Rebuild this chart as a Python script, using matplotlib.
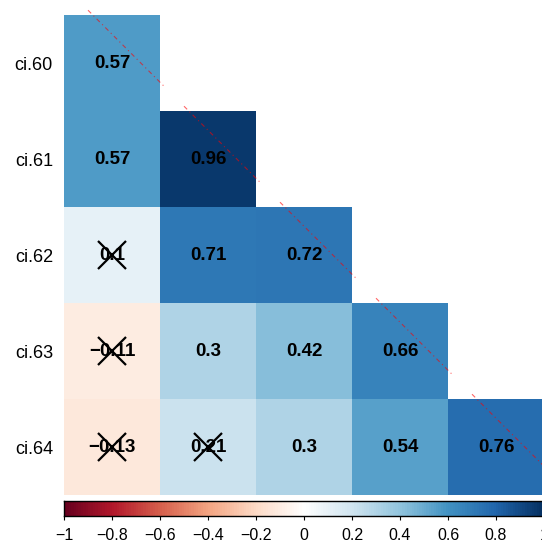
import numpy as np
import matplotlib
matplotlib.use("Agg")
import matplotlib.pyplot as plt
from matplotlib.colors import LinearSegmentedColormap

plt.rcParams['font.family'] = ['Liberation Sans', 'DejaVu Sans']

# --- donnees ---
row_labels = ["ci.60", "ci.61", "ci.62", "ci.63", "ci.64"]
row_60 = [0.57]
row_61 = [0.57, 0.96]
row_62 = [0.10, 0.71, 0.72]
row_63 = [-0.11, 0.30, 0.42, 0.66]
row_64 = [-0.13, 0.21, 0.30, 0.54, 0.76]
# cellules non significatives (barrees)
crossed = [(2, 0), (3, 0), (4, 0), (4, 1)]
cbar_ticks = [-1, -0.8, -0.6, -0.4, -0.2, 0, 0.2, 0.4, 0.6, 0.8, 1]

# palette RdBu facon corrplot (centre blanc)
col2 = ["#67001F", "#B2182B", "#D6604D", "#F4A582", "#FDDBC7", "#FFFFFF",
        "#D1E5F0", "#92C5DE", "#4393C3", "#2166AC", "#053061"]
cmap = LinearSegmentedColormap.from_list("col2", col2, N=200)

rows = [row_60, row_61, row_62, row_63, row_64]
n = len(rows)
mat = np.full((n, n), np.nan)
for i, r in enumerate(rows):
    mat[i, :len(r)] = r

W, H = 542, 544
fig = plt.figure(figsize=(W / 100, H / 100), dpi=100)

# --- matrice ---
ax = fig.add_axes([64 / W, (H - 495) / H, 480 / W, 480 / H])
ax.imshow(np.ma.masked_invalid(mat), cmap=cmap, vmin=-1, vmax=1,
          extent=(0.5, n + 0.5, n + 0.5, 0.5), aspect="auto",
          interpolation="nearest")
ax.set_xlim(0.5, n + 0.5)
ax.set_ylim(n + 0.5, 0.5)
for s in ax.spines.values():
    s.set_visible(False)
ax.set_xticks([])
ax.set_yticks(range(1, n + 1))
ax.set_yticklabels(row_labels, fontsize=13)
ax.tick_params(axis="y", length=0, pad=8)

for i, r in enumerate(rows):
    for j, v in enumerate(r):
        txt = f"{v:.2f}".rstrip("0").rstrip(".").replace("-", "\u2212")
        ax.text(j + 1, i + 1, txt, ha="center", va="center",
                fontsize=13.5, fontweight="bold", color="black")

for (i, j) in crossed:
    ax.plot(j + 1, i + 1, marker="x", markersize=19.5, mew=1.6,
            color="black", linestyle="none")

# etiquettes de colonnes illisibles (traits rouges en diagonale)
for j in range(n):
    ax.plot([j + 0.75, j + 1.55], [j + 0.45, j + 1.25], color="red",
            lw=0.8, alpha=0.6, linestyle=(0, (4, 3, 1, 3)),
            clip_on=False)

# --- barre de couleur ---
cax = fig.add_axes([64 / W, (H - 516) / H, 480 / W, 15 / H])
grad = np.linspace(-1, 1, 200).reshape(1, -1)
cax.imshow(grad, cmap=cmap, vmin=-1, vmax=1, aspect="auto",
           extent=(-1, 1, 0, 1), interpolation="nearest")
cax.set_xlim(-1, 1)
cax.set_yticks([])
cax.set_xticks(cbar_ticks)
cax.set_xticklabels([("%g" % t).replace("-", "\u2212") for t in cbar_ticks],
                    fontsize=11.5)
cax.tick_params(axis="x", length=3, width=0.8, pad=6)
for s in cax.spines.values():
    s.set_linewidth(1.0)

fig.savefig("out.png", dpi=100)
